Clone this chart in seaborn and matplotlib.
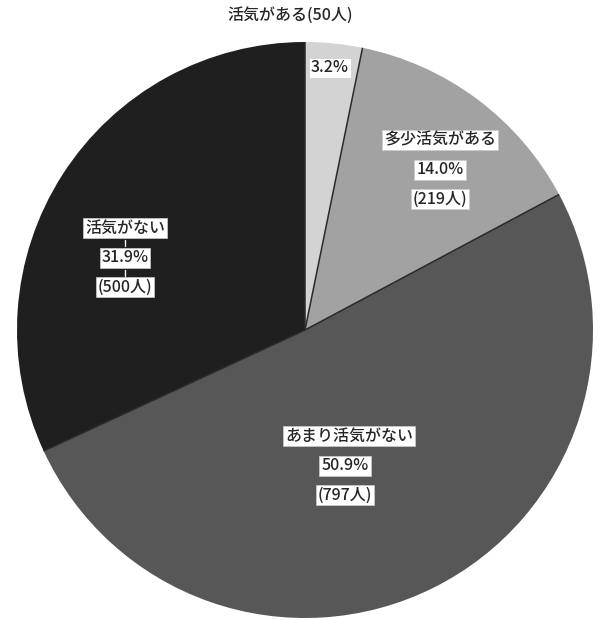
import matplotlib
matplotlib.use("Agg")
import matplotlib.pyplot as plt
import numpy as np
import seaborn as sns

# ---- data ----
categories = ["活気がある", "多少活気がある", "あまり活気がない", "活気がない"]
percents = [3.2, 14.0, 50.9, 31.9]
counts = [50, 219, 797, 500]
colors = ["#d3d3d3", "#a2a2a2", "#575757", "#1f1f1f"]

sns.set_theme(style="white")
plt.rcParams['font.family'] = ['Noto Sans CJK JP', 'DejaVu Sans']

W, H = 601, 620
fig = plt.figure(figsize=(W / 100, H / 100), dpi=100)
ax = fig.add_axes([0, 0, 1, 1])

cx, cy, R = 305, H - 330, 288
wedges, _ = ax.pie(percents, colors=sns.color_palette(colors), startangle=90,
                   counterclock=False, center=(cx, cy), radius=R,
                   wedgeprops=dict(edgecolor="none", linewidth=0))
# radial separators
for w in wedges:
    th = np.deg2rad(w.theta1)
    ax.plot([cx, cx + R * np.cos(th)], [cy, cy + R * np.sin(th)],
            color="#2a2a2a", lw=1.1, solid_capstyle="butt")
ax.set_xlim(0, W)
ax.set_ylim(0, H)
ax.set_aspect("equal")
ax.axis("off")

box = dict(boxstyle="square,pad=0.12", facecolor="white", edgecolor="#cccccc", linewidth=0.5)
fs = 11.5
tc = "#262626"
fw = "medium"

ax.text(290, H - 15, f"{categories[0]}({counts[0]}人)", ha="center", va="center",
        fontsize=fs, color=tc, fontweight=fw)
ax.text(330, H - 68, f"{percents[0]}%", ha="center", va="center", fontsize=fs,
        color=tc, bbox=box, fontweight=fw)

stack_pos = {1: (440, 140), 2: (349, 436), 3: (125, 228)}
pct_x = {1: 440, 2: 345, 3: 125}
for i, (x, y) in stack_pos.items():
    ax.text(x, H - y, categories[i], ha="center", va="center", fontsize=fs, color=tc,
            bbox=box, fontweight=fw)
    ax.text(pct_x[i], H - (y + 30), f"{percents[i]:.1f}%", ha="center", va="center",
            fontsize=fs, color=tc, bbox=box, fontweight=fw)
    ax.text(pct_x[i], H - (y + 59), f"({counts[i]}人)", ha="center", va="center",
            fontsize=fs, color=tc, bbox=box, fontweight=fw)

ax.plot([125, 125], [H - 240, H - 246], color="white", lw=1)
ax.plot([125, 125], [H - 270, H - 276], color="white", lw=1)

fig.savefig("out.png", dpi=100, facecolor="white")
